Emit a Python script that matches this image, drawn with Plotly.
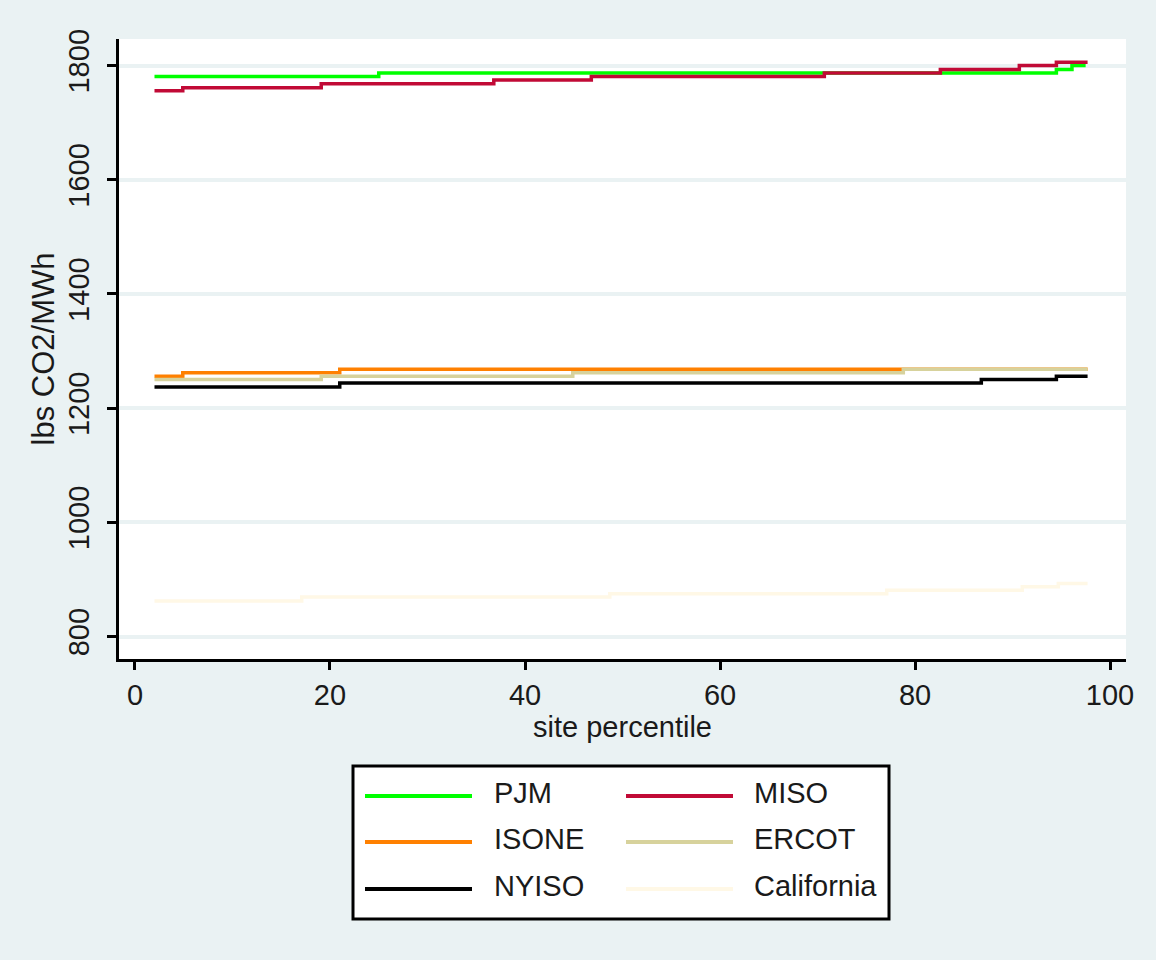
import plotly.graph_objects as go

# ---------------- data ----------------
series_names = ["PJM", "MISO", "ISONE", "ERCOT", "NYISO", "California"]
series_colors = ["#00FF00", "#C10A36", "#FF8000", "#D7D29C", "#000000", "#FFF8E6"]

pjm_pct = [2, 25, 94.5, 96.1, 97.5]
pjm_co2 = [1781, 1787, 1793, 1800, 1800]

miso_pct = [2, 4.9, 19.1, 36.8, 46.8, 70.7, 82.6, 90.7, 94.5, 97.7]
miso_co2 = [1756, 1761, 1768, 1775, 1781, 1787, 1793, 1800, 1806, 1806]

isone_pct = [2, 4.9, 21.0, 97.7]
isone_co2 = [1256, 1262, 1268, 1268]

ercot_pct = [2, 19.1, 44.9, 78.8, 97.7]
ercot_co2 = [1250, 1256, 1262, 1268, 1268]

nyiso_pct = [2, 21.0, 86.8, 94.5, 97.7]
nyiso_co2 = [1237, 1244, 1250, 1256, 1256]

cal_pct = [2, 17.1, 48.7, 77.1, 91.0, 94.7, 97.7]
cal_co2 = [862, 869, 875, 881, 887, 893, 893]

x_ticks = [0, 20, 40, 60, 80, 100]
y_ticks = [800, 1000, 1200, 1400, 1600, 1800]

x_title = "site percentile"
y_title = "lbs CO2/MWh"

# ---------------- figure ----------------
W, H = 1156, 960
ML, MR, MT, MB = 119, 30, 39, 301
BG = "#EAF2F3"
FONT = "Liberation Sans, Arial, sans-serif"
FS = 29
TXT = "#1a1a1a"

xs = [pjm_pct, miso_pct, isone_pct, ercot_pct, nyiso_pct, cal_pct]
ys = [pjm_co2, miso_co2, isone_co2, ercot_co2, nyiso_co2, cal_co2]

fig = go.Figure()
for name, color, x, y in zip(series_names, series_colors, xs, ys):
    fig.add_trace(go.Scatter(x=x, y=y, name=name, mode="lines",
                             line=dict(color=color, width=3.5, shape="hv"),
                             showlegend=False))

fig.update_layout(
    width=W, height=H,
    margin=dict(l=ML, r=MR, t=MT, b=MB, pad=0),
    paper_bgcolor=BG, plot_bgcolor="white",
    font=dict(family=FONT, size=FS, color=TXT),
    showlegend=False,
)
fig.update_xaxes(range=[-1.64, 101.64], tickvals=x_ticks, ticktext=[str(v) for v in x_ticks],
                 showgrid=False, zeroline=False, showline=True, linecolor="black", linewidth=3,
                 ticks="outside", ticklen=8, tickwidth=3, tickcolor="black",
                 title=dict(text=x_title, standoff=2, font=dict(size=FS)))
fig.update_yaxes(range=[760.6, 1846.6], tickvals=y_ticks, ticktext=[str(v) for v in y_ticks],
                 showgrid=True, gridcolor=BG, gridwidth=4, zeroline=False,
                 showline=True, linecolor="black", linewidth=3,
                 ticks="outside", ticklen=9, tickwidth=3, tickcolor="black",
                 tickangle=-90, ticklabelstandoff=6,
                 title=dict(text=y_title, standoff=0, font=dict(size=31)))

# ---------------- legend drawn in paper coordinates ----------------
pw, ph = W - ML - MR, H - MT - MB
def px(xp):
    return (xp - ML) / pw
def py(yp):
    return (H - MB - yp) / ph

fig.add_shape(type="rect", xref="paper", yref="paper",
              x0=px(353), x1=px(889), y0=py(766), y1=py(919),
              line=dict(color="black", width=3), fillcolor="white", layer="above")
rows = [796, 842, 889]
cols = [(365, 472, 492), (626, 733, 752)]
for i, (name, color) in enumerate(zip(series_names, series_colors)):
    r, c = i // 2, i % 2
    lx0, lx1, tx = cols[c]
    yy = rows[r]
    fig.add_shape(type="line", xref="paper", yref="paper",
                  x0=px(lx0), x1=px(lx1), y0=py(yy), y1=py(yy),
                  line=dict(color=color, width=4), layer="above")
    fig.add_annotation(xref="paper", yref="paper", x=px(tx), y=py(yy - 3),
                       text=name, showarrow=False, xanchor="left", yanchor="middle",
                       font=dict(size=FS, color=TXT, family=FONT))

fig.write_html("out.html", config={"displayModeBar": False},
               post_script="document.body.style.margin='0';")
